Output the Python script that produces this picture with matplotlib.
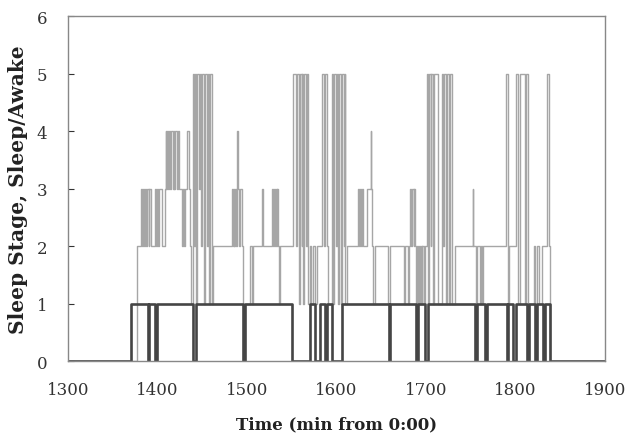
import numpy as np
import matplotlib.pyplot as plt

# ====> data (minutes from 0:00, step values)
stage_t = [1300, 1377,
           1382, 1383, 1384, 1385, 1386, 1387, 1388, 1390, 1391, 1393,
           1397, 1398, 1399, 1401, 1402, 1405,
           1408, 1409, 1410, 1411, 1412, 1413, 1414, 1415, 1417, 1418, 1419, 1420, 1422, 1423, 1424,
           1427, 1428, 1430, 1431, 1433, 1435, 1436, 1438,
           1440, 1441, 1442, 1443, 1444, 1446, 1447, 1449, 1450, 1452, 1453, 1455, 1456, 1458, 1459, 1461, 1462,
           1483, 1484, 1485, 1486, 1487, 1488, 1489, 1490, 1491, 1492, 1494, 1496,
           1503, 1506, 1507, 1517, 1518, 1528, 1529, 1530, 1531, 1532, 1533, 1534, 1535, 1536, 1537,
           1551, 1555, 1556, 1558, 1559, 1561, 1562, 1563, 1564, 1566, 1567, 1568,
           1570, 1572, 1574, 1576, 1578, 1584, 1586, 1587, 1589, 1591,
           1595, 1596, 1597, 1599, 1600, 1602, 1603, 1605, 1606, 1608, 1609, 1610, 1612,
           1624, 1625, 1626, 1627, 1628, 1630,
           1634, 1638, 1639, 1640, 1641, 1643, 1658, 1660, 1675, 1676, 1680, 1681,
           1682, 1683, 1684, 1686, 1687, 1688, 1689,
           1690, 1691, 1692, 1693, 1694, 1695, 1696, 1698, 1699,
           1701, 1702, 1703, 1705, 1706, 1708, 1709, 1713, 1718, 1719, 1720, 1722, 1723, 1726, 1727, 1729,
           1732, 1752, 1753, 1756, 1757, 1760, 1761, 1763, 1764,
           1789, 1791, 1793, 1800, 1803, 1805, 1810, 1812, 1814,
           1821, 1822, 1824, 1826, 1829, 1835, 1837, 1839, 1900]
stage_v = [0, 2,
           3, 2, 3, 2, 3, 2, 3, 2, 3, 2,
           3, 2, 3, 2, 3, 2,
           3, 4, 3, 4, 3, 4, 3, 4, 3, 4, 3, 4, 3, 4, 3,
           2, 3, 2, 3, 4, 3, 2, 1,
           5, 2, 5, 1, 5, 3, 5, 2, 5, 1, 5, 2, 5, 1, 5, 1, 2,
           3, 2, 3, 2, 3, 2, 4, 3, 2, 3, 2, 1,
           2, 1, 2, 3, 2, 3, 2, 3, 2, 3, 2, 3, 2, 1, 2,
           5, 2, 5, 1, 5, 2, 5, 1, 5, 2, 5, 1,
           2, 1, 2, 1, 2, 5, 2, 5, 2, 1,
           5, 1, 5, 2, 5, 1, 5, 1, 5, 2, 5, 1, 2,
           3, 2, 3, 2, 3, 2,
           3, 4, 3, 2, 1, 2, 1, 2, 1, 2, 1, 2,
           3, 2, 3, 2, 3, 2, 1,
           2, 1, 2, 1, 2, 1, 2, 1, 2,
           5, 1, 5, 2, 5, 1, 5, 1, 5, 2, 5, 1, 5, 1, 5, 1,
           2, 3, 2, 1, 2, 1, 2, 1, 2,
           5, 1, 2, 5, 1, 5, 1, 5, 1,
           2, 1, 2, 1, 2, 5, 2, 0, 0]

sleep_t = [1300, 1371, 1389, 1391, 1397, 1399, 1440, 1443, 1496, 1498,
           1550, 1570, 1576, 1582, 1587, 1589, 1595, 1606,
           1659, 1660, 1689, 1691, 1699, 1702,
           1755, 1757, 1766, 1768, 1790, 1792, 1797, 1800,
           1813, 1815, 1822, 1824, 1831, 1833, 1839, 1900]
sleep_v = [0, 1, 0, 1, 0, 1, 0, 1, 0, 1,
           0, 1, 0, 1, 0, 1, 0, 1,
           0, 1, 0, 1, 0, 1,
           0, 1, 0, 1, 0, 1, 0, 1,
           0, 1, 0, 1, 0, 1, 0, 0]

x_ticks = [1300, 1400, 1500, 1600, 1700, 1800, 1900]
y_ticks = [0, 1, 2, 3, 4, 5, 6]

# ====> plot
plt.rcParams['font.family'] = ['DejaVu Serif']
fig = plt.figure(figsize=(6.29, 4.39), dpi=100)
ax = fig.add_axes([0.108, 0.175, 0.854, 0.786])

ax.plot(stage_t, stage_v, drawstyle='steps-post', color='#a6a6a6', lw=1.0)
ax.plot(sleep_t, sleep_v, drawstyle='steps-post', color='#454545', lw=1.9)

ax.set_xlim(1300, 1900)
ax.set_ylim(0, 6)
ax.set_xticks(x_ticks)
ax.set_yticks(y_ticks)
ax.tick_params(axis='x', length=0, labelsize=12, pad=14, colors='#333333')
ax.tick_params(axis='y', direction='in', length=4, labelsize=12, pad=15, colors='#333333')
for s in ax.spines.values():
    s.set_color('#888888')
    s.set_linewidth(1.0)

ax.set_xlabel('Time (min from 0:00)', fontsize=12, fontweight='bold', color='#222222', labelpad=13)
ax.set_ylabel('Sleep Stage, Sleep/Awake', fontsize=14.5, fontweight='bold', color='#222222', labelpad=6)

plt.savefig('out.png')
plt.close()
